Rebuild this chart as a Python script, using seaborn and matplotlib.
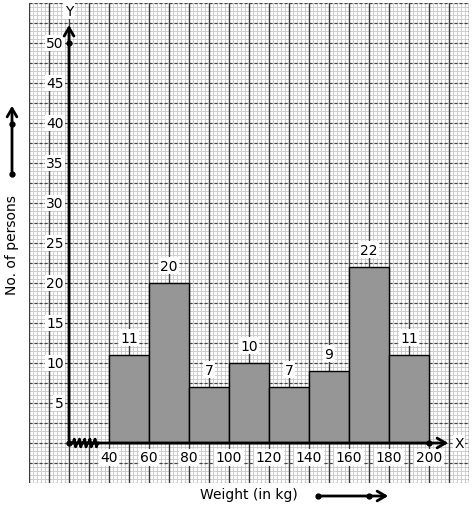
import numpy as np
import matplotlib
matplotlib.use("Agg")
import matplotlib.pyplot as plt
import seaborn as sns

# class intervals (lower edges) and number of persons
lower_edges = [40, 60, 80, 100, 120, 140, 160, 180]
class_width = 20
persons = [11, 20, 7, 10, 7, 9, 22, 11]
x_ticks = [40, 60, 80, 100, 120, 140, 160, 180, 200]
y_ticks = [5, 10, 15, 20, 25, 30, 35, 40, 45, 50]

sns.set_style("white")
plt.rcParams["font.family"] = ["DejaVu Sans"]
plt.rcParams["text.color"] = "black"

fig = plt.figure(figsize=(4.74, 5.10), dpi=100)
ax = fig.add_axes([29 / 474, 26 / 510, 440 / 474, 480 / 510])
ax.set_xlim(0, 220)
ax.set_ylim(-5, 55)

# graph paper
for xv in np.arange(0, 221, 2):
    ax.axvline(xv, color="#c8c8c8", lw=0.6, zorder=0)
for yv in np.arange(-5, 55.1, 0.5):
    ax.axhline(yv, color="#c8c8c8", lw=0.6, zorder=0)
for xv in np.arange(0, 221, 10):
    ax.axvline(xv, color="#3a3a3a", lw=1.0, zorder=0.5)
for yv in np.arange(-5, 55.1, 2.5):
    ax.axhline(yv, color="#444444", lw=0.9, ls=(0, (2.5, 1.5)), zorder=0.5)

# histogram
edges = lower_edges + [lower_edges[-1] + class_width]
mids = [e + class_width / 2 for e in lower_edges]
sns.histplot(x=mids, weights=persons, bins=edges, color="#969696",
             edgecolor="black", linewidth=1.0, alpha=1, ax=ax, zorder=2)
ax.set_xlabel("")
ax.set_ylabel("")

box = dict(facecolor="white", edgecolor="none", pad=1)
for m, v in zip(mids, persons):
    ax.text(m, v + 1.3, str(v), ha="center", va="bottom", fontsize=10,
            bbox=box, zorder=4)

# axes with arrows
head = "->,head_length=0.6,head_width=0.35"
ax.annotate("", xy=(20, 52.6), xytext=(20, 0),
            arrowprops=dict(arrowstyle=head, lw=2, color="black"), zorder=5)
ax.annotate("", xy=(211, 0), xytext=(20, 0),
            arrowprops=dict(arrowstyle=head, lw=2, color="black"), zorder=5)
ax.text(20, 54, "Y", ha="center", va="center", fontsize=10, bbox=box, zorder=6)
ax.text(215, 0, "X", ha="center", va="center", fontsize=10, bbox=box, zorder=6)
ax.plot([20, 20, 200], [0, 50, 0], "o", color="black", ms=3.5, zorder=6)

# axis break
zx = np.linspace(22, 35, 21)
zy = np.tile([0, 0.6, -0.6, 0], 6)[:21] * 0.8
ax.plot(zx, zy, color="black", lw=2, zorder=6)

for t in x_ticks:
    ax.text(t, -1.8, str(t), ha="center", va="center", fontsize=10,
            bbox=box, zorder=4)
for t in y_ticks:
    ax.text(17.3, t, str(t), ha="right", va="center", fontsize=10,
            bbox=box, zorder=4)

ax.set_xticks([])
ax.set_yticks([])
for s in ax.spines.values():
    s.set_visible(False)

# axis titles with direction arrows
fig.text(12 / 474, 1 - 245 / 510, "No. of persons", rotation=90,
         ha="center", va="center", fontsize=10)
fig.text(249 / 474, 1 - 495 / 510, "Weight (in kg)", ha="center",
         va="center", fontsize=10)
ax.annotate("", xy=(12 / 474, 1 - 104 / 510), xytext=(12 / 474, 1 - 175 / 510),
            xycoords="figure fraction", textcoords="figure fraction",
            arrowprops=dict(arrowstyle=head, lw=2, color="black"),
            annotation_clip=False)
ax.annotate("", xy=(391 / 474, 1 - 497 / 510), xytext=(318 / 474, 1 - 497 / 510),
            xycoords="figure fraction", textcoords="figure fraction",
            arrowprops=dict(arrowstyle=head, lw=2, color="black"),
            annotation_clip=False)
fig.lines.append(plt.Line2D([12 / 474, 12 / 474, 318 / 474, 369 / 474],
                            [1 - 175 / 510, 1 - 125 / 510, 1 - 497 / 510, 1 - 497 / 510],
                            ls="none", marker="o", ms=3.5, color="black",
                            transform=fig.transFigure))

fig.savefig("out.png", dpi=100)
